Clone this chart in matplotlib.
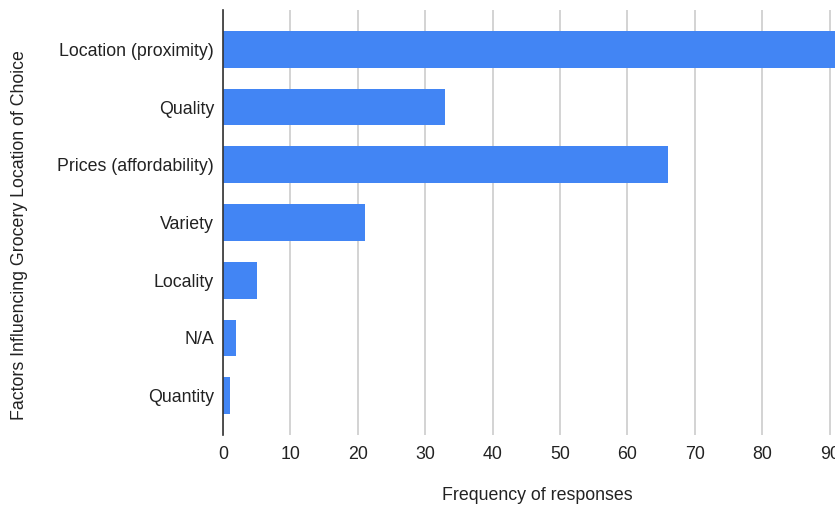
import matplotlib.pyplot as plt

plt.rcParams['font.family'] = ['Liberation Sans', 'DejaVu Sans']

factors = ['Location (proximity)', 'Quality', 'Prices (affordability)', 'Variety',
           'Locality', 'N/A', 'Quantity']
responses = [95, 33, 66, 21, 5, 2, 1]
x_ticks = [0, 10, 20, 30, 40, 50, 60, 70, 80, 90, 100]

W, H = 835, 508
fs = 12.8
fig = plt.figure(figsize=(W / 100, H / 100), dpi=100)

# axes runs past the right edge so the last tick gets cut off
left, right, top, bottom = 223, 223 + 674, 10, 435
ax = fig.add_axes([left / W, 1 - bottom / H, (right - left) / W, (bottom - top) / H])

pos = list(range(len(factors)))
ax.barh(pos, responses, height=0.64, color='#4285F4', zorder=3)
ax.set_yticks(pos)
ax.set_yticklabels(factors, fontsize=fs, color='#222222')
ax.set_ylim(len(factors) - 1 + 0.68, -0.68)

ax.set_xlim(0, 100)
ax.set_xticks(x_ticks)
ax.set_xticklabels([str(t) for t in x_ticks], fontsize=fs, color='#222222')
ax.grid(axis='x', color='#cccccc', linewidth=1.2, zorder=0)
ax.tick_params(length=0)
ax.tick_params(axis='x', pad=8)
ax.tick_params(axis='y', pad=6.5)

for s in ['top', 'right', 'bottom']:
    ax.spines[s].set_visible(False)
ax.spines['left'].set_color('#333333')
ax.spines['left'].set_linewidth(1.2)
ax.spines['left'].set_zorder(4)

fig.text(537 / W, 1 - 496 / H, 'Frequency of responses', ha='center', va='center',
         fontsize=fs, color='#222222')
fig.text(20 / W, 1 - 235 / H, 'Factors Influencing Grocery Location of Choice',
         ha='center', va='center', rotation=90, fontsize=fs, color='#222222')

fig.savefig('out.png', dpi=100)
